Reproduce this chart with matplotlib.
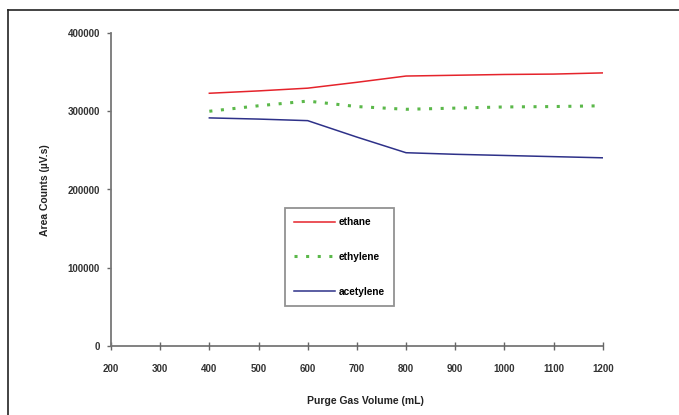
import matplotlib
matplotlib.use("Agg")
import matplotlib.pyplot as plt
from matplotlib.lines import Line2D

plt.rcParams['font.family'] = ['Liberation Sans', 'DejaVu Sans']

# data
volume = [400, 500, 600, 700, 800, 900, 1000, 1100, 1200]
ethane = [323000, 326000, 329500, 337000, 345000, 346000, 347000, 347500, 349000]
ethylene = [300000, 307000, 313000, 306000, 302500, 304000, 305500, 306000, 307000]
acetylene = [291500, 290000, 288000, 267000, 247000, 245000, 243500, 242000, 240500]

x_ticks = [200, 300, 400, 500, 600, 700, 800, 900, 1000, 1100, 1200]
y_ticks = [0, 100000, 200000, 300000, 400000]

W, H = 679, 415
fig = plt.figure(figsize=(W / 100, H / 100), dpi=100)
ax = fig.add_axes([111 / W, 1 - 346 / H, (602.7 - 111) / W, (346 - 33) / H])

ax.plot(volume, ethane, color='#e5232b', lw=1.1, label='ethane')
ax.plot(volume, ethylene, color='#5bb84a', lw=2.2, linestyle=(0, (1, 2.8)),
        label='ethylene')
ax.plot(volume, acetylene, color='#2e3189', lw=1.1, label='acetylene')

ax.set_xlim(200, 1200)
ax.set_ylim(0, 400000)
ax.set_xticks(x_ticks)
ax.set_yticks(y_ticks)
ax.set_xticklabels([str(v) for v in x_ticks], fontsize=7, fontweight='bold', color='#333333')
ax.set_yticklabels([str(v) for v in y_ticks], fontsize=7, fontweight='bold', color='#333333')
ax.tick_params(axis='x', direction='inout', length=6, width=1, color='#666666', pad=10)
ax.tick_params(axis='y', direction='out', length=3, width=1, color='#666666', pad=5)

for side in ['top', 'right']:
    ax.spines[side].set_visible(False)
for side in ['left', 'bottom']:
    ax.spines[side].set_color('#777777')
    ax.spines[side].set_linewidth(1.3)
ax.spines['bottom'].set_zorder(0)

fig.text(365 / W, 1 - 401 / H, 'Purge Gas Volume (mL)', ha='center', va='center',
         fontsize=7.5, fontweight='bold', color='#222222')
fig.text(45 / W, 1 - 190 / H, 'Area Counts (\u00b5V.s)', ha='center', va='center',
         rotation=90, fontsize=7.5, fontweight='bold', color='#222222')

leg = ax.legend(loc='upper left', bbox_to_anchor=((285 - 111) / (602.7 - 111), (346 - 208) / 313),
                frameon=True, fancybox=False, prop={'weight': 'bold', 'size': 7.3},
                labelspacing=2.45, handlelength=4.0, borderpad=0.9, handletextpad=0.4,
                borderaxespad=0)
leg.get_frame().set_edgecolor('#777777')
leg.get_frame().set_linewidth(1.3)

# outer frame (top and left edges visible)
fig.add_artist(Line2D([8 / W, 1], [1 - 10 / H, 1 - 10 / H], color='#222222', lw=1.2))
fig.add_artist(Line2D([8 / W, 8 / W], [0, 1 - 10 / H], color='#222222', lw=1.2))

fig.savefig('out.png', dpi=100)
